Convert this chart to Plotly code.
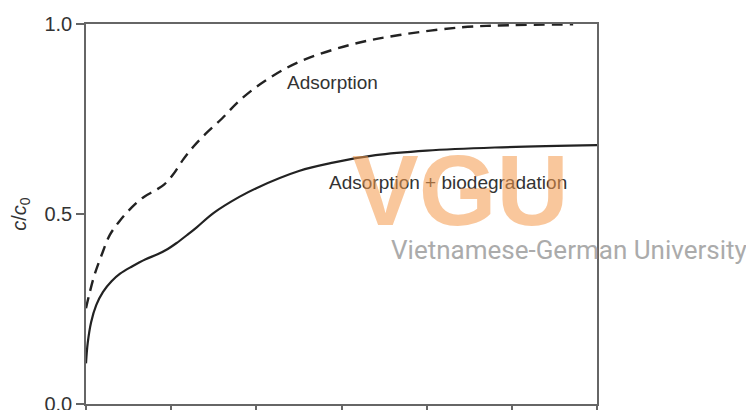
import plotly.graph_objects as go

# Adsorption + biodegradation (solid curve)
x_bio = [0.0, 0.01, 0.03, 0.06, 0.1, 0.15, 0.2, 0.27, 0.35, 0.42, 0.48, 0.53, 0.6, 0.65,
         0.75, 0.9, 1.0, 1.25, 1.45, 1.7, 2.0, 2.4, 3.0]
y_bio = [0.107, 0.16, 0.215, 0.26, 0.295, 0.323, 0.343, 0.362, 0.381, 0.394, 0.408, 0.423, 0.447, 0.465,
         0.503, 0.545, 0.568, 0.613, 0.635, 0.655, 0.667, 0.675, 0.681]

# Adsorption only (dashed curve)
x_ads = [0.0, 0.02, 0.05, 0.09, 0.14, 0.2, 0.27, 0.34, 0.41, 0.46, 0.51, 0.57, 0.63, 0.7,
         0.8, 0.9, 1.05, 1.25, 1.55, 1.84, 2.2, 2.5, 2.86]
y_ads = [0.252, 0.29, 0.34, 0.39, 0.445, 0.483, 0.518, 0.545, 0.563, 0.578, 0.603, 0.643, 0.677, 0.71,
         0.752, 0.798, 0.85, 0.9, 0.945, 0.971, 0.991, 0.997, 0.999]

LINE = '#222222'
AXIS = '#666666'
TEXT = '#333333'
FONT = 'Liberation Sans, Arial, sans-serif'

fig = go.Figure()

fig.add_trace(go.Scatter(
    x=x_ads, y=y_ads, mode='lines',
    line=dict(color=LINE, width=2.4, dash='11px,7px', shape='spline', smoothing=1.0),
    showlegend=False, hoverinfo='skip'
))
fig.add_trace(go.Scatter(
    x=x_bio, y=y_bio, mode='lines',
    line=dict(color=LINE, width=2.2, shape='spline', smoothing=1.0),
    showlegend=False, hoverinfo='skip'
))

# curve labels
fig.add_annotation(x=1.45, y=0.847, text='Adsorption', showarrow=False,
                   font=dict(family=FONT, size=19, color=TEXT))
fig.add_annotation(x=2.125, y=0.582, text='Adsorption + biodegradation', showarrow=False,
                   font=dict(family=FONT, size=19, color=TEXT))

# watermark
fig.add_annotation(xref='paper', yref='paper', x=0.732, y=0.564, text='<b>VGU</b>',
                   xanchor='center', yanchor='middle', showarrow=False, opacity=0.55,
                   font=dict(family=FONT, size=100, color='#F59A4C'))
fig.add_annotation(xref='paper', yref='paper', x=0.945, y=0.405,
                   xanchor='center', yanchor='middle',
                   text='Vietnamese-German University', showarrow=False,
                   font=dict(family='Roboto, sans-serif', size=26, color='#ABABAB'))

fig.update_xaxes(
    range=[0, 3], dtick=1, showticklabels=False, automargin=False,
    showline=True, linecolor=AXIS, linewidth=1.5, mirror=True,
    ticks='outside', ticklen=6, tickcolor=AXIS, tickwidth=1.5,
    minor=dict(dtick=0.5, ticks='outside', ticklen=4, tickcolor=AXIS),
    showgrid=False, zeroline=False
)
fig.update_yaxes(
    range=[0, 1], dtick=0.5, tickformat='.1f', automargin=False,
    ticklabeloverflow='allow',
    showline=True, linecolor=AXIS, linewidth=1.5, mirror=True,
    ticks='outside', ticklen=8, tickcolor=AXIS, tickwidth=1.5,
    tickfont=dict(family=FONT, size=20, color=TEXT),
    title=dict(text='<i>c</i>/<i>c</i><sub>0</sub>', standoff=26,
               font=dict(family=FONT, size=20, color=TEXT)),
    showgrid=False, zeroline=False
)

# page body adds an 8px offset, so the figure is sized to the visible area
fig.update_layout(
    width=746, height=402,
    margin=dict(l=78, r=157, t=16, b=6),
    paper_bgcolor='white', plot_bgcolor='white'
)

fig.write_html("out.html")
